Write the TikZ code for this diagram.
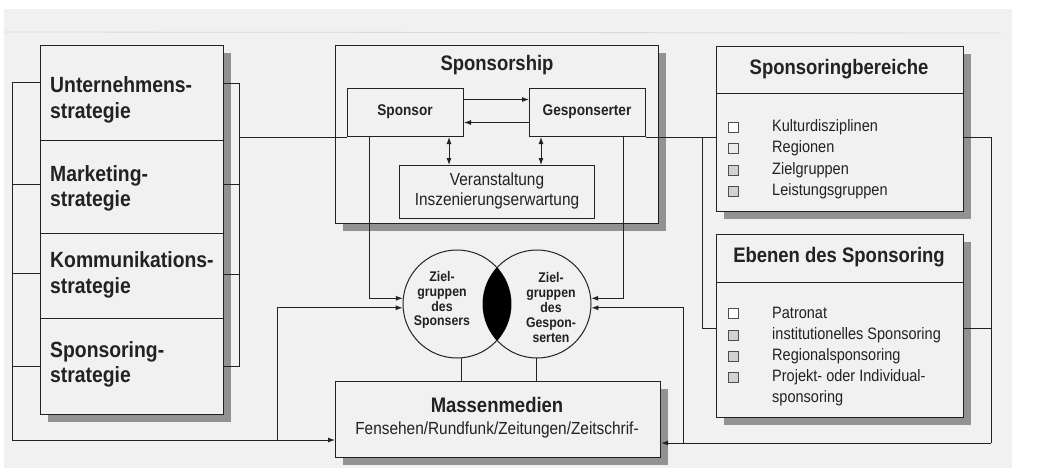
\documentclass[tikz,border=0pt]{standalone}
\usepackage{fontspec}
\setmainfont{Liberation Sans}
\newfontfamily\cnd[FakeStretch=0.88]{Liberation Sans}
\usetikzlibrary{arrows.meta,shadows,calc}

\definecolor{paper}{HTML}{F1F1F1}
\definecolor{ink}{HTML}{222222}
\definecolor{shade}{HTML}{929292}

\newcommand\fTitle{\cnd\bfseries\fontsize{21}{25}\selectfont}
\newcommand\fStrat{\cnd\bfseries\fontsize{22}{25.5}\selectfont}
\newcommand\fItem{\cnd\fontsize{16.5}{21.5}\selectfont}
\newcommand\fSmall{\cnd\bfseries\fontsize{15.5}{18}\selectfont}
\newcommand\fMid{\cnd\fontsize{17.5}{20}\selectfont}
\newcommand\fCirc{\cnd\bfseries\fontsize{14}{14.8}\selectfont}

\begin{document}
\begin{tikzpicture}[x=1pt,y=-1pt,
  box/.style={draw=ink, line width=1.1pt, fill=paper, rectangle, inner sep=0pt,
    anchor=north west,
    drop shadow={shadow xshift=7pt, shadow yshift=-7pt, opacity=1, fill=shade}},
  plainbox/.style={draw=ink, line width=1pt, fill=paper, rectangle, inner sep=0pt, anchor=north west},
  conn/.style={draw=ink, line width=0.9pt},
  >={Latex[length=7pt,width=5pt]},
  chk/.style={draw=ink!80, line width=0.8pt, rectangle, minimum size=10pt, inner sep=0pt},
  lbl/.style={text=ink, inner sep=0pt},
  circ/.style={draw=ink, line width=1pt, circle, minimum size=108pt, inner sep=0pt}]

\useasboundingbox (0,0) rectangle (1056,468);
\fill[white] (0,0) rectangle (1056,468);
\fill[paper] (4,9) rectangle (1012,468);
\draw[gray!30, line width=0.8pt] (4,32) -- (1000,33);

% strategy column
\node[box, minimum width=183pt, minimum height=95pt] (s1) at (40,45) {};
\node[box, minimum width=183pt, minimum height=93pt] (s2) at (40,140) {};
\node[box, minimum width=183pt, minimum height=85pt] (s3) at (40,233) {};
\node[box, minimum width=183pt, minimum height=96pt] (s4) at (40,318) {};
\node[lbl, anchor=west, align=left, font=\fStrat] (s1t) at (50,100) {Unternehmens-\\strategie};
\node[lbl, anchor=west, align=left, font=\fStrat] (s2t) at (50,188.5) {Marketing-\\strategie};
\node[lbl, anchor=west, align=left, font=\fStrat] (s3t) at (50,275) {Kommunikations-\\strategie};
\node[lbl, anchor=west, align=left, font=\fStrat] (s4t) at (50,364.5) {Sponsoring-\\strategie};

% sponsorship block
\node[box, minimum width=323pt, minimum height=178pt] (sship) at (335,45) {};
\node[lbl, font=\fTitle] (sshipt) at (497,65) {Sponsorship};
\node[plainbox, minimum width=116pt, minimum height=48pt] (sponsor) at (347,88) {};
\node[lbl, font=\fSmall] (sponsort) at (405,112) {Sponsor};
\node[plainbox, minimum width=116pt, minimum height=48pt] (gesp) at (529,88) {};
\node[lbl, font=\fSmall] (gespt) at (587,112) {Gesponserter};
\node[plainbox, minimum width=195pt, minimum height=53pt] (veran) at (399,165) {};
\node[lbl, font=\fMid, align=center] (verant) at (497,191) {Veranstaltung\\Inszenierungserwartung};

% Sponsoringbereiche
\node[box, minimum width=247pt, minimum height=165pt] (sber) at (716,46) {};
\draw[ink, line width=1pt] (716,94) -- (963,94);
\node[lbl, font=\fTitle] (sbert) at (839,69) {Sponsoringbereiche};
\node[chk, fill=white] (k1) at (733,127) {};
\node[chk, fill=white!85!gray] (k2) at (733,148) {};
\node[chk, fill=gray!35] (k3) at (733,170) {};
\node[chk, fill=gray!35] (k4) at (733,191) {};
\node[lbl, font=\fItem, anchor=west] (i1) at (772,127) {Kulturdisziplinen};
\node[lbl, font=\fItem, anchor=west] (i2) at (772,148) {Regionen};
\node[lbl, font=\fItem, anchor=west] (i3) at (772,170) {Zielgruppen};
\node[lbl, font=\fItem, anchor=west] (i4) at (772,191) {Leistungsgruppen};

% Ebenen des Sponsoring
\node[box, minimum width=247pt, minimum height=183pt] (ebene) at (716,234) {};
\draw[ink, line width=1pt] (716,282) -- (963,282);
\node[lbl, font=\fTitle] (ebenet) at (839,257) {Ebenen des Sponsoring};
\node[chk, fill=white] (e1k) at (733,313) {};
\node[chk, fill=gray!35] (e2k) at (733,335) {};
\node[chk, fill=gray!35] (e3k) at (733,356) {};
\node[chk, fill=gray!35] (e4k) at (733,377) {};
\node[lbl, font=\fItem, anchor=west] (j1) at (772,313) {Patronat};
\node[lbl, font=\fItem, anchor=west] (j2) at (772,335) {institutionelles Sponsoring};
\node[lbl, font=\fItem, anchor=west] (j3) at (772,356) {Regionalsponsoring};
\node[lbl, font=\fItem, anchor=north west, align=left] (j4) at (772,369) {Projekt- oder Individual-\\sponsoring};

% Massenmedien
\node[box, minimum width=325pt, minimum height=76pt] (massen) at (335,381) {};
\node[lbl, font=\fTitle] (massent) at (497,405) {Massenmedien};
\node[lbl, font=\fMid] (massens) at (497,430) {Fensehen/Rundfunk/Zeitungen/Zeitschrif-};

% target groups
\node[circ] (L) at (457,304) {};
\node[circ] (R) at (537,304) {};
\begin{scope}
  \clip (L.center) circle[radius=54];
  \fill[black] (R.center) circle[radius=54];
\end{scope}
\node[lbl, font=\fCirc, align=center] (Lt) at (442,300) {Ziel-\\gruppen\\des\\Sponsers};
\node[lbl, font=\fCirc, align=center] (Rt) at (551,307.5) {Ziel-\\gruppen\\des\\Gespon-\\serten};

% left bracket
\coordinate (l1) at (12,82);
\coordinate (l2) at (12,184);
\coordinate (l3) at (12,273);
\coordinate (l4) at (12,366);
\coordinate (lb) at (12,440);
\draw[conn] (s1.west |- l1) -- (l1) -- (lb);
\draw[conn] (s2.west |- l2) -- (l2);
\draw[conn] (s3.west |- l3) -- (l3);
\draw[conn] (s4.west |- l4) -- (l4);
\draw[conn,->] (lb) -- (massen.west |- lb);
\coordinate (lu) at (277,440);
\draw[conn,->] (lu) |- (L.184);

% right bracket of the strategy column
\coordinate (r1) at (239,83);
\coordinate (r2) at (239,184);
\coordinate (r3) at (239,274);
\coordinate (r4) at (239,366);
\draw[conn] (s1.east |- r1) -- (r1) -- (r4) -- (s4.east |- r4);
\draw[conn] (s2.east |- r2) -- (r2);
\draw[conn] (s3.east |- r3) -- (r3);
\draw[conn] (r1 |- sponsor.south) -- (sponsor.south west);

% inside sponsorship
\draw[conn,->] ([yshift=13pt]sponsor.east) -- ([yshift=13pt]gesp.west);
\draw[conn,->] ([yshift=-10pt]gesp.west) -- ([yshift=-10pt]sponsor.east);
\coordinate (d1) at (449,150);
\coordinate (d2) at (541,150);
\draw[conn,<->] (sponsor.south -| d1) -- (veran.north -| d1);
\draw[conn,<->] (gesp.south -| d2) -- (veran.north -| d2);

% to the target groups
\coordinate (c1) at (369,150);
\coordinate (c2) at (623,150);
\draw[conn,->] (sponsor.south -| c1) |- (L.174);
\draw[conn,->] (gesp.south -| c2) |- (R.6);
\draw[conn] (L.-85) -- (L.-85 |- massen.north);
\draw[conn] (R.-91) -- (R.-91 |- massen.north);

% right side
\coordinate (e1) at (702,328);
\draw[conn] (gesp.south east) -- (sber.west |- gesp.south east);
\draw[conn] (e1 |- gesp.south) -- (e1) -- (ebene.west |- e1);
\coordinate (q1) at (991,137);
\coordinate (q2) at (991,328);
\coordinate (q3) at (991,443);
\draw[conn] (sber.east |- q1) -- (q1) -- (q3);
\draw[conn] (ebene.east |- q2) -- (q2);
\draw[conn,->] (q3) -- (massen.east |- q3);
\coordinate (u2) at (683,443);
\draw[conn,->] (u2) |- (R.-4);

\end{tikzpicture}
\end{document}
